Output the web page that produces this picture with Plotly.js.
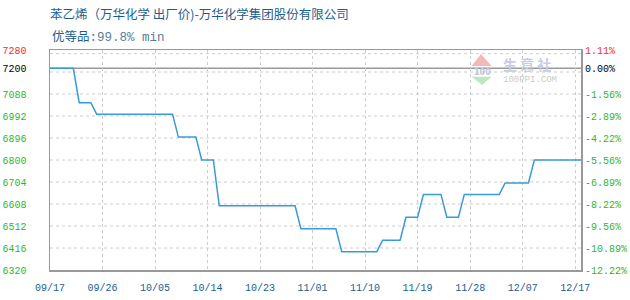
<!DOCTYPE html>
<html>
<head>
<meta charset="utf-8">
<script src="https://cdn.plot.ly/plotly-3.0.1.min.js"></script>
<style>
  html, body { margin: 0; padding: 0; background: #fff; }
  #chart { width: 630px; height: 300px; }
</style>
</head>
<body>
<div id="chart"></div>
<script>
// Daily ex-works price of styrene (Wanhua Chemical), in yuan/ton.
// Each point is a sample index (one per trading day from 09/17) and the price on that day.
const sampleIndex = [0, 4, 5, 7, 8, 21, 22, 25, 26, 28, 29, 42, 43, 49, 50, 56, 57, 60, 61, 63, 64, 67, 68, 70, 71, 77, 78, 82, 83, 91];
const price       = [7200, 7200, 7050, 7050, 7000, 7000, 6900, 6900, 6800, 6800, 6600, 6600, 6500, 6500, 6400, 6400, 6450, 6450, 6550, 6550, 6650, 6650, 6550, 6550, 6650, 6650, 6700, 6700, 6800, 6800];

// Reference price the right-hand percentage scale is measured from.
const basePrice = 7200;

// Date ticks along the bottom.
const dateTickIndex = [0, 9, 18, 27, 36, 45, 54, 63, 72, 81, 90];
const dateTickText  = ['09/17', '09/26', '10/05', '10/14', '10/23', '11/01', '11/10', '11/19', '11/28', '12/07', '12/17'];

// Price ticks (left) and their change relative to the base price (right).
const priceTicks    = [6320, 6416, 6512, 6608, 6704, 6800, 6896, 6992, 7088, 7200, 7280];
const priceTickText = ['6320', '6416', '6512', '6608', '6704', '6800', '6896', '6992', '7088', '7200', '7280'];
const pctTickText   = ['-12.22%', '-10.89%', '-9.56%', '-8.22%', '-6.89%', '-5.56%', '-4.22%', '-2.89%', '-1.56%', '0.00%', '1.11%'];

// Horizontal dashed guide lines.
const gridPrices = [6416, 6512, 6608, 6704, 6800, 6896, 6992, 7088, 7184, 7264];

const priceRange = [6320, 7280];
const indexRange = [0, 91];

const UP = '#ff2a2a', FLAT = '#000000', DOWN = '#2db82d';
const BLUE_TEXT = '#1b5e8e';
const MONO = '"Liberation Mono", "DejaVu Sans Mono", monospace';
const CJK = '"Noto Sans CJK SC", "Noto Sans", sans-serif';

function colorFor(v) {
  return v > basePrice ? UP : (v < basePrice ? DOWN : FLAT);
}
const leftText  = priceTicks.map((v, i) => `<span style="fill:${colorFor(v)}">${priceTickText[i]}</span>`);
const rightText = priceTicks.map((v, i) => `<span style="fill:${colorFor(v)}">${pctTickText[i]}</span>`);

const gridShapes = gridPrices.map(v => ({
  type: 'line', xref: 'paper', yref: 'y', x0: 0, x1: 1, y0: v, y1: v,
  line: { color: '#cccccc', width: 1, dash: 'dot' }, layer: 'below'
}));

const baseShape = {
  type: 'line', xref: 'paper', yref: 'y', x0: 0, x1: 1, y0: basePrice, y1: basePrice,
  line: { color: '#999999', width: 1.5 }, layer: 'below'
};

// 100ppi logo: red up-triangle, green down-triangle
const logoShapes = [
  { type: 'path', xref: 'paper', yref: 'paper', layer: 'below',
    path: 'M 0.8117 0.9818 L 0.8318 0.9273 L 0.7940 0.9273 Z',
    fillcolor: '#f5b8b8', line: { width: 0 } },
  { type: 'path', xref: 'paper', yref: 'paper', layer: 'below',
    path: 'M 0.7940 0.8786 L 0.8318 0.8786 L 0.8136 0.8409 Z',
    fillcolor: '#bde8bd', line: { width: 0 } }
];

const trace = {
  x: sampleIndex,
  y: price,
  type: 'scatter',
  mode: 'lines',
  line: { color: '#3a9ad9', width: 1.5, shape: 'linear' },
  hoverinfo: 'skip'
};

// Invisible trace so the right-hand axis is drawn.
const rightTrace = {
  x: [indexRange[0]], y: [basePrice], yaxis: 'y2', type: 'scatter', mode: 'markers',
  marker: { opacity: 0 }, hoverinfo: 'skip'
};

const layout = {
  width: 630,
  height: 300,
  margin: { l: 50, r: 49, t: 50, b: 30, pad: 0 },
  paper_bgcolor: '#ffffff',
  plot_bgcolor: '#ffffff',
  showlegend: false,
  hovermode: false,
  title: {
    text: '苯乙烯（万华化学 出厂价)-万华化学集团股份有限公司',
    font: { family: CJK, size: 12.5, color: BLUE_TEXT },
    x: 50 / 630, xref: 'container', xanchor: 'left',
    y: 1 - 15 / 300, yref: 'container', yanchor: 'middle'
  },
  annotations: [
    {
      text: '优等品<span style="font-family:' + "'Liberation Mono'" + ';fill:#5b7d99">:99.8% min</span>',
      xref: 'paper', yref: 'paper', x: 0, y: (270 - 35) / 220,
      xanchor: 'left', yanchor: 'middle', showarrow: false,
      font: { family: CJK, size: 12.5, color: BLUE_TEXT }
    },
    {
      text: '<b>100</b>', xref: 'paper', yref: 'paper', x: 0.8136, y: 0.9,
      xanchor: 'center', yanchor: 'middle', showarrow: false,
      font: { family: 'DejaVu Sans', size: 8, color: '#c0c4dc' }
    },
    {
      text: '<b>生 意 社</b>', xref: 'paper', yref: 'paper', x: (501 - 50) / 531, y: (270 - 64) / 220,
      xanchor: 'left', yanchor: 'middle', showarrow: false,
      font: { family: CJK, size: 14, color: '#c9cde2' }
    },
    {
      text: '100PPI.COM', xref: 'paper', yref: 'paper', x: (501 - 50) / 531, y: (270 - 80) / 220,
      xanchor: 'left', yanchor: 'middle', showarrow: false,
      font: { family: MONO, size: 9, color: '#cccccc' }
    }
  ],
  xaxis: {
    range: indexRange,
    tickmode: 'array',
    tickvals: dateTickIndex,
    ticktext: dateTickText,
    tickfont: { family: MONO, size: 10, color: BLUE_TEXT },
    ticks: '',
    ticklabelstandoff: 7,
    showgrid: true,
    gridcolor: '#cccccc',
    griddash: 'dot',
    gridwidth: 1,
    zeroline: false,
    showline: true,
    linecolor: '#999999',
    linewidth: 1.5,
    mirror: true,
    fixedrange: true
  },
  yaxis: {
    range: priceRange,
    tickmode: 'array',
    tickvals: priceTicks,
    ticktext: leftText,
    tickfont: { family: MONO, size: 10, color: DOWN },
    ticks: '',
    ticklabelstandoff: 20,
    showgrid: false,
    zeroline: false,
    showline: true,
    linecolor: '#999999',
    linewidth: 1.5,
    mirror: true,
    fixedrange: true
  },
  yaxis2: {
    overlaying: 'y',
    side: 'right',
    range: priceRange,
    tickmode: 'array',
    tickvals: priceTicks,
    ticktext: rightText,
    tickfont: { family: MONO, size: 10, color: DOWN },
    ticks: '',
    ticklabelstandoff: 3,
    showgrid: false,
    zeroline: false,
    showline: false,
    fixedrange: true
  },
  shapes: gridShapes.concat([baseShape]).concat(logoShapes)
};

Plotly.newPlot('chart', [trace, rightTrace], layout, { staticPlot: true, displayModeBar: false });
</script>
</body>
</html>
